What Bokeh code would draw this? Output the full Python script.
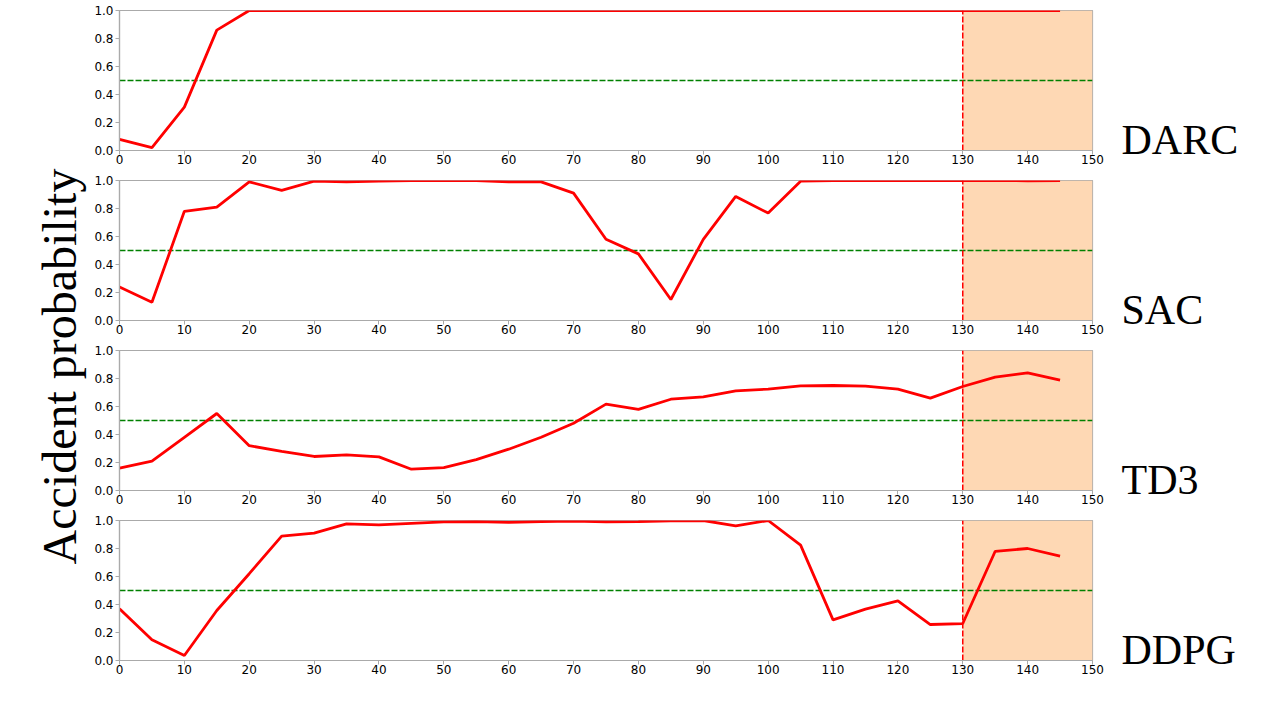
import math
from bokeh.plotting import figure
from bokeh.layouts import row, column
from bokeh.models import Range1d, FixedTicker, Label, NumeralTickFormatter
from bokeh.embed import file_html
from bokeh.resources import INLINE

# ---- data ----
steps = [0, 5, 10, 15, 20, 25, 30, 35, 40, 45, 50, 55, 60, 65, 70,
         75, 80, 85, 90, 95, 100, 105, 110, 115, 120, 125, 130, 135, 140, 145]
darc = [0.08, 0.02, 0.31, 0.86, 1.0, 1.0, 1.0, 1.0, 1.0, 1.0, 1.0, 1.0, 1.0, 1.0, 1.0,
        1.0, 1.0, 1.0, 1.0, 1.0, 1.0, 1.0, 1.0, 1.0, 1.0, 1.0, 1.0, 1.0, 1.0, 1.0]
sac = [0.24, 0.13, 0.78, 0.81, 0.99, 0.93, 0.995, 0.99, 0.995, 1.0, 1.0, 1.0, 0.99, 0.99, 0.91,
       0.58, 0.476, 0.15, 0.58, 0.886, 0.767, 0.995, 1.0, 1.0, 1.0, 1.0, 1.0, 1.0, 0.998, 1.0]
td3 = [0.16, 0.21, 0.38, 0.55, 0.32, 0.28, 0.243, 0.255, 0.24, 0.152, 0.164, 0.22, 0.295, 0.38, 0.48,
       0.617, 0.58, 0.652, 0.669, 0.712, 0.724, 0.748, 0.75, 0.745, 0.724, 0.66, 0.743, 0.81, 0.84, 0.788]
ddpg = [0.37, 0.148, 0.036, 0.357, 0.62, 0.888, 0.91, 0.976, 0.969, 0.98, 0.99, 0.993, 0.986, 0.993, 0.995,
        0.99, 0.993, 0.998, 1.0, 0.962, 1.0, 0.824, 0.29, 0.367, 0.426, 0.257, 0.264, 0.78, 0.80, 0.745]
names = ["DARC", "SAC", "TD3", "DDPG"]
values = [darc, sac, td3, ddpg]
threshold = 0.5
boundary = 130
region = [130, 150]
x_ticks = [0, 10, 20, 30, 40, 50, 60, 70, 80, 90, 100, 110, 120, 130, 140, 150]
y_ticks = [0.0, 0.2, 0.4, 0.6, 0.8, 1.0]
y_title = "Accident probability"

SPINE = "#aaaaaa"
PH = 170          # height of one panel figure
PW = 1015         # width of one panel figure
FW = 976          # frame width
panels = []
for i, vals in enumerate(values):
    left = 26 if i == 3 else 29
    p = figure(width=PW, height=PH, output_backend="svg", toolbar_location=None,
               x_range=Range1d(0, 150), y_range=Range1d(0, 1),
               min_border_left=left, min_border_right=PW - FW - left,
               min_border_top=10, min_border_bottom=20)
    p.grid.visible = False
    p.outline_line_color = SPINE
    p.outline_line_width = 1.2
    for ax in (p.xaxis[0], p.yaxis[0]):
        ax.axis_line_color = SPINE
        ax.axis_line_width = 1.2
        ax.major_tick_line_color = SPINE
        ax.major_tick_in = 0
        ax.major_tick_out = 4
        ax.minor_tick_line_color = None
        ax.major_label_text_font = "DejaVu Sans"
        ax.major_label_text_font_size = "12px"
        ax.major_label_text_color = "black"
    p.xaxis.ticker = FixedTicker(ticks=x_ticks)
    p.xaxis.major_label_standoff = 0
    p.yaxis.ticker = FixedTicker(ticks=y_ticks)
    p.yaxis.formatter = NumeralTickFormatter(format="0.0")
    p.yaxis.major_label_standoff = 2

    p.quad(left=[region[0]], right=[region[1]], bottom=[0], top=[1],
           fill_color="#fed8b4", line_color=None)
    p.line([0, 150], [threshold, threshold], line_color="green", line_width=1.5,
           line_dash="6 2")
    p.line([boundary, boundary], [0, 1], line_color="red", line_width=1.5,
           line_dash="6 2")
    p.line(steps, vals, line_color="red", line_width=2.8)
    panels.append(p)

H = PH * len(values)

# y-axis title figure (left)
t = figure(width=90, height=H, output_backend="svg", toolbar_location=None,
           x_range=Range1d(0, 90), y_range=Range1d(H, 0),
           x_axis_type=None, y_axis_type=None,
           min_border=0, outline_line_color=None)
t.grid.visible = False
t.add_layout(Label(x=59, y=366, text=y_title, angle=math.pi / 2,
                   text_font="Liberation Serif", text_font_size="48px",
                   text_color="black", text_align="center", text_baseline="middle"))

# series-name figure (right)
n = figure(width=1280 - 90 - PW, height=H, output_backend="svg", toolbar_location=None,
           x_range=Range1d(0, 1280 - 90 - PW), y_range=Range1d(H, 0),
           x_axis_type=None, y_axis_type=None,
           min_border=0, outline_line_color=None)
n.grid.visible = False
for i, name in enumerate(names):
    n.add_layout(Label(x=16, y=PH * i + 139, text=name, text_font="Liberation Serif",
                       text_font_size="42px", text_color="black",
                       text_baseline="middle", text_align="left"))

layout = row(t, column(*panels, spacing=0), n, spacing=0)
open("out.html", "w").write(file_html(layout, INLINE))
